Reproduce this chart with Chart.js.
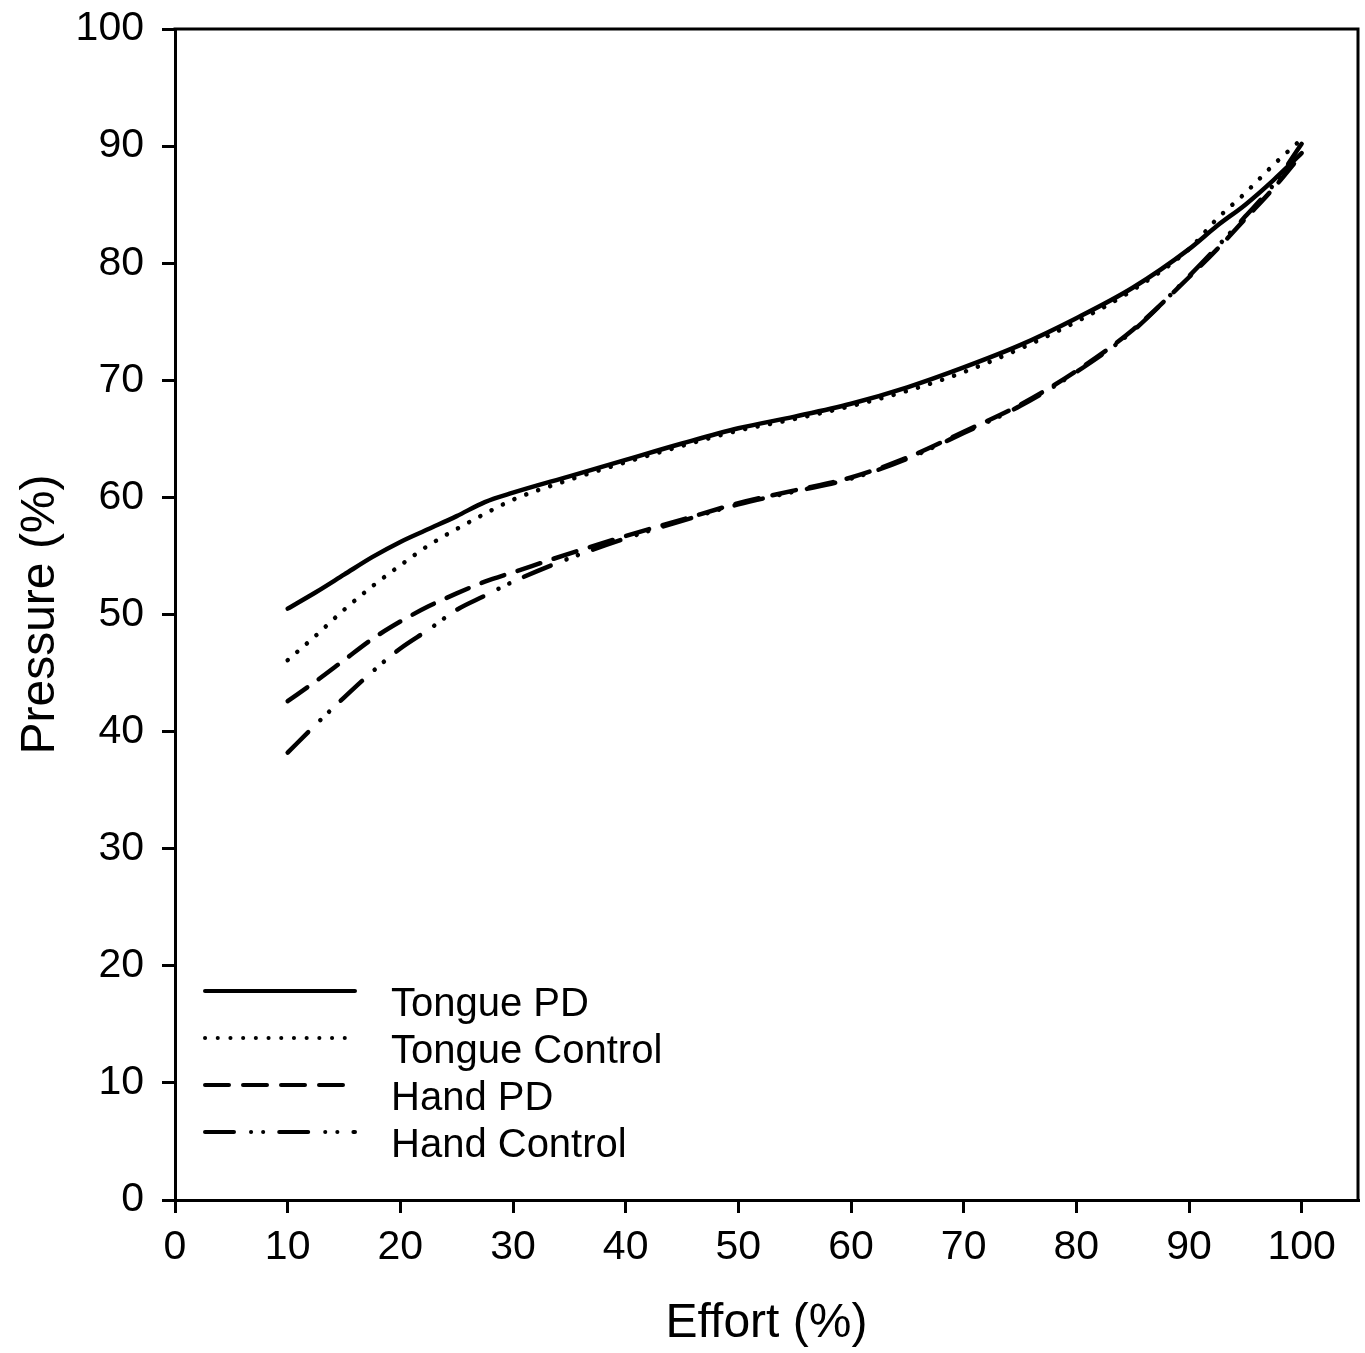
<!DOCTYPE html>
<html>
<head>
<meta charset="utf-8">
<script src="https://cdn.jsdelivr.net/npm/chart.js@4.4.1/dist/chart.umd.min.js"></script>
<style>
html,body{margin:0;padding:0;background:#fff;}
#c{display:block;}
</style>
</head>
<body>
<canvas id="c" width="1365" height="1353"></canvas>
<script>
// ---- data ----
const effort = [10,12.5,15,17.5,20,22.5,25,27.5,30,35,40,45,50,55,60,65,70,75,80,85,90,92.5,95,97.5,100];
const tonguePD = [50.5,51.9,53.4,54.9,56.2,57.3,58.4,59.6,60.4,61.8,63.2,64.6,65.9,66.9,68.0,69.4,71.1,73.0,75.3,77.9,81.2,83.2,85.0,87.1,89.4];
const tongueControl = [46.1,48.2,50.4,52.4,54.2,55.9,57.3,58.6,59.8,61.5,63.0,64.4,65.7,66.7,67.8,69.1,70.7,72.7,75.0,77.7,81.2,83.8,86.0,88.4,90.6];
const handPD = [42.6,44.3,46.1,47.9,49.4,50.7,51.8,52.8,53.6,55.2,56.7,58.1,59.5,60.6,61.7,63.4,65.6,67.9,70.8,74.3,78.8,81.2,83.8,86.4,89.3];
const handControl = [38.2,40.6,42.9,45.1,47.1,48.7,50.4,51.6,52.8,54.8,56.5,58.0,59.4,60.5,61.6,63.3,65.5,67.8,70.7,74.2,78.9,81.4,84.0,86.7,90.2];
const seriesNames = ['Tongue PD','Tongue Control','Hand PD','Hand Control'];
const xTitle = 'Effort (%)';
const yTitle = 'Pressure (%)';

const FONT = "'Liberation Sans', Arial, Helvetica, sans-serif";
const dashes = [[], [0.1, 12.6], [24, 14], [29, 17, 0.1, 12, 0.1, 16]];
const seriesData = [tonguePD, tongueControl, handPD, handControl];

const datasets = seriesData.map((arr, i) => ({
  label: seriesNames[i],
  data: effort.map((x, j) => ({x: x, y: arr[j]})),
  borderColor: '#000',
  backgroundColor: '#000',
  borderWidth: 4.5,
  borderDash: dashes[i],
  borderCapStyle: 'round',
  borderJoinStyle: 'round',
  pointRadius: 0,
  fill: false,
  cubicInterpolationMode: 'monotone'
}));

const framePlugin = {
  id: 'frame',
  afterDraw(chart) {
    const {ctx, chartArea: a} = chart;
    ctx.save();
    ctx.strokeStyle = '#000';
    ctx.lineWidth = 3;
    ctx.lineCap = 'butt';
    ctx.beginPath();
    ctx.moveTo(a.left - 1.5, a.top);
    ctx.lineTo(a.right, a.top);
    ctx.lineTo(a.right, a.bottom + 1.5);
    ctx.stroke();
    ctx.restore();
  }
};

const legendPlugin = {
  id: 'insideLegend',
  afterDraw(chart) {
    const ctx = chart.ctx;
    const x0 = 205, x1 = 355, tx = 391;
    const baseline0 = 1016, step = 47;
    ctx.save();
    chart.data.datasets.forEach((ds, i) => {
      const by = baseline0 + i * step;
      const ly = by - 25;
      ctx.strokeStyle = ds.borderColor;
      ctx.lineWidth = 4;
      ctx.lineCap = 'round';
      ctx.setLineDash(ds.borderDash);
      ctx.beginPath();
      ctx.moveTo(x0, ly);
      ctx.lineTo(x1, ly);
      ctx.stroke();
      ctx.setLineDash([]);
      ctx.fillStyle = '#000';
      ctx.font = '40px ' + FONT;
      ctx.textAlign = 'left';
      ctx.textBaseline = 'alphabetic';
      ctx.fillText(ds.label, tx, by);
    });
    ctx.restore();
  }
};

new Chart(document.getElementById('c'), {
  type: 'line',
  data: { datasets: datasets },
  plugins: [framePlugin, legendPlugin],
  options: {
    responsive: false,
    animation: false,
    devicePixelRatio: 1,
    layout: { padding: { left: 0, right: 7, top: 29, bottom: 0 } },
    plugins: { legend: { display: false }, tooltip: { enabled: false } },
    scales: {
      x: {
        type: 'linear',
        min: 0, max: 105,
        afterFit(s) { s.height = 153; s.paddingLeft = 0; s.paddingRight = 0; },
        ticks: { stepSize: 10, includeBounds: false, color: '#000', padding: 10, maxRotation: 0,
                 font: { family: FONT, size: 41 } },
        grid: { drawOnChartArea: false, drawTicks: true, tickLength: 13, lineWidth: 3, color: '#000' },
        border: { display: true, width: 3, color: '#000' },
        title: { display: true, text: xTitle, color: '#000', font: { family: FONT, size: 48 },
                 padding: { top: 0, bottom: 0 } }
      },
      y: {
        type: 'linear',
        min: 0, max: 100,
        afterFit(s) { s.width = 175; s.paddingTop = 0; s.paddingBottom = 0; },
        ticks: { stepSize: 10, color: '#000', padding: 18, font: { family: FONT, size: 41 } },
        grid: { drawOnChartArea: false, drawTicks: true, tickLength: 13, lineWidth: 3, color: '#000' },
        border: { display: true, width: 3, color: '#000' },
        title: { display: true, text: yTitle, color: '#000', font: { family: FONT, size: 48 },
                 padding: { top: 12, bottom: 0 } }
      }
    }
  }
});
</script>
</body>
</html>
